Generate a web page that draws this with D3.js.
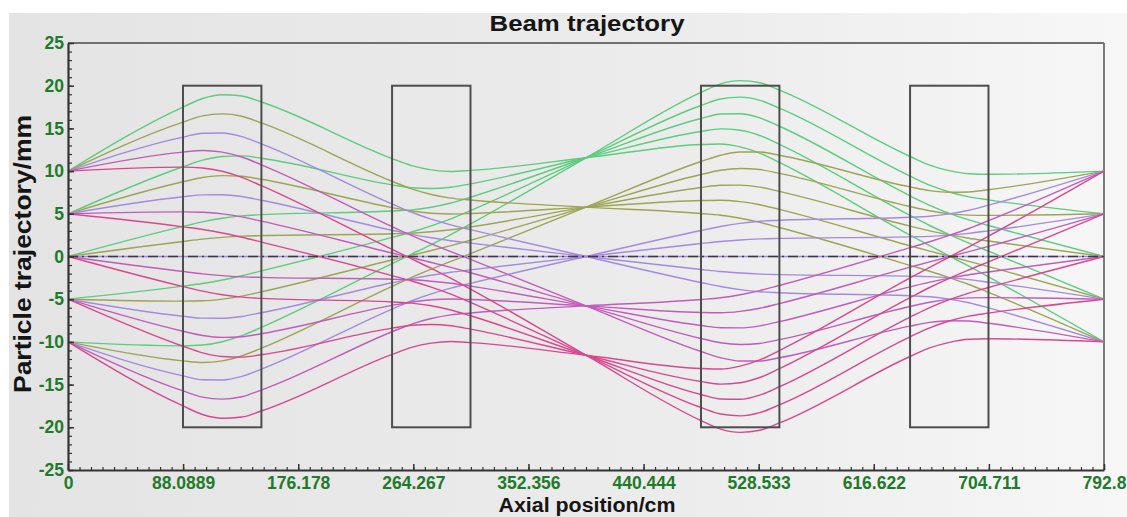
<!DOCTYPE html>
<html>
<head>
<meta charset="utf-8">
<script src="https://cdnjs.cloudflare.com/ajax/libs/d3/7.8.5/d3.min.js"></script>
<style>
body { margin: 0; background: #fff; }
svg { display: block; font-family: "Liberation Sans", Arial, sans-serif; }
</style>
</head>
<body>
<div id="beamChart"></div>
<script>
// axial stations (cm) where each particle's transverse position was read
var stations = [0, 88, 103, 118, 133, 148, 248, 263, 278, 293, 308, 396.4,
	484.4, 499.4, 514.4, 529.4, 544.4, 644.4, 659.4, 674.4, 689.4, 704.4, 792.8];

// quadrupole boxes (start / end in cm, half aperture in mm)
var quadStart = [88, 248, 484.4, 644.4];
var quadEnd = [148, 308, 544.4, 704.4];
var quadAperture = 20;

// particle groups by starting offset; each holds 5 rays (green, olive, purple, magenta, pink)
var startOffsets = [10, 5, 0, -5, -10];
var rayColors = ["#5dcc7f", "#9ea454", "#a48ae0", "#c25cbc", "#d9488f"];

var raysFrom10 = [
	[10, 17.50, 18.50, 18.94, 18.80, 18.09, 11.47, 10.64, 10.15, 9.96, 10.08, 11.56, 13.12, 13.18, 12.84, 12.11, 11.01, 2.51, 1.27, 0.06, -1.14, -2.38, -10],
	[10, 15.74, 16.47, 16.70, 16.42, 15.64, 8.81, 7.91, 7.26, 6.83, 6.61, 5.78, 5.04, 4.83, 4.48, 3.99, 3.39, -1.04, -1.73, -2.47, -3.28, -4.19, -10],
	[10, 13.98, 14.44, 14.46, 14.04, 13.19, 6.15, 5.18, 4.37, 3.70, 3.14, 0, -3.04, -3.51, -3.88, -4.12, -4.24, -4.60, -4.72, -4.99, -5.42, -6.01, -10],
	[10, 12.22, 12.41, 12.22, 11.65, 10.74, 3.49, 2.45, 1.49, 0.57, -0.33, -5.78, -11.12, -11.86, -12.24, -12.24, -11.86, -8.15, -7.72, -7.52, -7.55, -7.82, -10],
	[10, 10.46, 10.37, 9.98, 9.27, 8.29, 0.83, -0.28, -1.40, -2.57, -3.81, -11.56, -19.21, -20.21, -20.59, -20.35, -19.49, -11.71, -10.71, -10.05, -9.69, -9.63, -10]
];
var raysFrom5 = [
	[5, 10.51, 11.28, 11.71, 11.78, 11.50, 8.39, 8.05, 7.96, 8.11, 8.51, 11.56, 14.64, 14.94, 14.78, 14.17, 13.13, 4.81, 3.63, 2.56, 1.57, 0.63, -5],
	[5, 8.75, 9.25, 9.47, 9.40, 9.04, 5.73, 5.32, 5.07, 4.98, 5.04, 5.78, 6.56, 6.59, 6.42, 6.06, 5.51, 1.25, 0.63, 0.03, -0.57, -1.19, -5],
	[5, 6.99, 7.22, 7.23, 7.02, 6.59, 3.07, 2.59, 2.19, 1.85, 1.57, 0, -1.52, -1.76, -1.94, -2.06, -2.12, -2.30, -2.36, -2.50, -2.71, -3.00, -5],
	[5, 5.23, 5.19, 4.99, 4.64, 4.14, 0.41, -0.14, -0.70, -1.28, -1.90, -5.78, -9.60, -10.10, -10.30, -10.18, -9.74, -5.85, -5.36, -5.02, -4.85, -4.82, -5],
	[5, 3.47, 3.16, 2.75, 2.25, 1.69, -2.24, -2.87, -3.59, -4.41, -5.38, -11.56, -17.68, -18.45, -18.66, -18.29, -17.37, -9.41, -8.35, -7.55, -6.98, -6.63, -5]
];
var raysFrom0 = [
	[0, 3.52, 4.06, 4.48, 4.76, 4.90, 5.32, 5.46, 5.77, 6.26, 6.94, 11.56, 16.16, 16.69, 16.72, 16.23, 15.25, 7.11, 5.99, 5.06, 4.28, 3.63, 0],
	[0, 1.76, 2.03, 2.24, 2.38, 2.45, 2.66, 2.73, 2.89, 3.13, 3.47, 5.78, 8.08, 8.35, 8.36, 8.12, 7.62, 3.55, 3.00, 2.53, 2.14, 1.81, 0],
	[0, 0, 0, 0, 0, 0, 0, 0, 0, 0, 0, 0, 0, 0, 0, 0, 0, 0, 0, 0, 0, 0, 0],
	[0, -1.76, -2.03, -2.24, -2.38, -2.45, -2.66, -2.73, -2.89, -3.13, -3.47, -5.78, -8.08, -8.35, -8.36, -8.12, -7.62, -3.55, -3.00, -2.53, -2.14, -1.81, 0],
	[0, -3.52, -4.06, -4.48, -4.76, -4.90, -5.32, -5.46, -5.77, -6.26, -6.94, -11.56, -16.16, -16.69, -16.72, -16.23, -15.25, -7.11, -5.99, -5.06, -4.28, -3.63, 0]
];
var raysFromM5 = [
	[-5, -3.47, -3.16, -2.75, -2.25, -1.69, 2.24, 2.87, 3.59, 4.41, 5.38, 11.56, 17.68, 18.45, 18.66, 18.29, 17.37, 9.41, 8.35, 7.55, 6.98, 6.63, 5],
	[-5, -5.23, -5.19, -4.99, -4.64, -4.14, -0.41, 0.14, 0.70, 1.28, 1.90, 5.78, 9.60, 10.10, 10.30, 10.18, 9.74, 5.85, 5.36, 5.02, 4.85, 4.82, 5],
	[-5, -6.99, -7.22, -7.23, -7.02, -6.59, -3.07, -2.59, -2.19, -1.85, -1.57, 0, 1.52, 1.76, 1.94, 2.06, 2.12, 2.30, 2.36, 2.50, 2.71, 3.00, 5],
	[-5, -8.75, -9.25, -9.47, -9.40, -9.04, -5.73, -5.32, -5.07, -4.98, -5.04, -5.78, -6.56, -6.59, -6.42, -6.06, -5.51, -1.25, -0.63, -0.03, 0.57, 1.19, 5],
	[-5, -10.51, -11.28, -11.71, -11.78, -11.50, -8.39, -8.05, -7.96, -8.11, -8.51, -11.56, -14.64, -14.94, -14.78, -14.17, -13.13, -4.81, -3.63, -2.56, -1.57, -0.63, 5]
];
var raysFromM10 = [
	[-10, -10.46, -10.37, -9.98, -9.27, -8.29, -0.83, 0.28, 1.40, 2.57, 3.81, 11.56, 19.21, 20.21, 20.59, 20.35, 19.49, 11.71, 10.71, 10.05, 9.69, 9.63, 10],
	[-10, -12.22, -12.41, -12.22, -11.65, -10.74, -3.49, -2.45, -1.49, -0.57, 0.33, 5.78, 11.12, 11.86, 12.24, 12.24, 11.86, 8.15, 7.72, 7.52, 7.55, 7.82, 10],
	[-10, -13.98, -14.44, -14.46, -14.04, -13.19, -6.15, -5.18, -4.37, -3.70, -3.14, 0, 3.04, 3.51, 3.88, 4.12, 4.24, 4.60, 4.72, 4.99, 5.42, 6.01, 10],
	[-10, -15.74, -16.47, -16.70, -16.42, -15.64, -8.81, -7.91, -7.26, -6.83, -6.61, -5.78, -5.04, -4.83, -4.48, -3.99, -3.39, 1.04, 1.73, 2.47, 3.28, 4.19, 10],
	[-10, -17.50, -18.50, -18.94, -18.80, -18.09, -11.47, -10.64, -10.15, -9.96, -10.08, -11.56, -13.12, -13.18, -12.84, -12.11, -11.01, -2.51, -1.27, -0.06, 1.14, 2.38, 10]
];

var xTicks = [0, 88.0889, 176.178, 264.267, 352.356, 440.444, 528.533, 616.622, 704.711, 792.8];
var xTickLabels = ["0", "88.0889", "176.178", "264.267", "352.356", "440.444", "528.533", "616.622", "704.711", "792.8"];
var yTicks = [25, 20, 15, 10, 5, 0, -5, -10, -15, -20, -25];
var yTickLabels = ["25", "20", "15", "10", "5", "0", "-5", "-10", "-15", "-20", "-25"];

var canvasWidth = 1127;
var canvasHeight = 517;
var labelGreen = "#1f7a2a";

var beamCanvas = d3.select("#beamChart")
	.append("svg")
	.attr("width", canvasWidth)
	.attr("height", canvasHeight);

// light grey panel, a little brighter on the right
var panelFade = beamCanvas.append("defs")
	.append("linearGradient")
	.attr("id", "panelFade")
	.attr("x1", "0%").attr("x2", "100%")
	.attr("y1", "0%").attr("y2", "0%");
panelFade.append("stop").attr("offset", "0%").attr("stop-color", "#e4e4e4");
panelFade.append("stop").attr("offset", "60%").attr("stop-color", "#ececec");
panelFade.append("stop").attr("offset", "100%").attr("stop-color", "#f7f7f7");

beamCanvas.append("rect")
	.attr("x", 9)
	.attr("y", 13)
	.attr("width", canvasWidth - 9)
	.attr("height", canvasHeight - 13)
	.style("fill", "url(#panelFade)");

var x = d3.scaleLinear().domain([0, 792.8]).range([68, 1104]);
var y = d3.scaleLinear().domain([-25, 25]).range([470, 43]);

// frame: top and right borders
beamCanvas.append("line")
	.attr("x1", x(0)).attr("x2", x(792.8))
	.attr("y1", y(25)).attr("y2", y(25))
	.attr("stroke", "#707070").attr("stroke-width", 2);
beamCanvas.append("line")
	.attr("x1", x(792.8)).attr("x2", x(792.8))
	.attr("y1", y(25)).attr("y2", y(-25))
	.attr("stroke", "#7a7a7a").attr("stroke-width", 2);

// particle trajectories
var rayLine = d3.line()
	.x(function(d, i) { return x(stations[i]); })
	.y(function(d) { return y(d); })
	.curve(d3.curveMonotoneX);

var rayGroups = [raysFrom10, raysFrom5, raysFrom0, raysFromM5, raysFromM10];
var rayLayer = beamCanvas.append("g");
for (var c = 0; c < rayColors.length; c++) {
	for (var s = 0; s < rayGroups.length; s++) {
		rayLayer.append("path")
			.attr("d", rayLine(rayGroups[s][c]))
			.attr("fill", "none")
			.attr("stroke", rayColors[c])
			.attr("stroke-width", 1.4)
			.attr("data-start", startOffsets[s]);
	}
}

// quadrupole boxes
for (var q = 0; q < quadStart.length; q++) {
	beamCanvas.append("rect")
		.attr("x", x(quadStart[q]))
		.attr("y", y(quadAperture))
		.attr("width", x(quadEnd[q]) - x(quadStart[q]))
		.attr("height", y(-quadAperture) - y(quadAperture))
		.attr("fill", "none")
		.attr("stroke", "#4d4d4d")
		.attr("stroke-width", 2);
}

// optical axis, drawn over the rays
beamCanvas.append("line")
	.attr("x1", x(0)).attr("x2", x(792.8))
	.attr("y1", y(0)).attr("y2", y(0))
	.attr("stroke", "#3a3a3a")
	.attr("stroke-width", 1.6)
	.attr("stroke-dasharray", "10,4,2,4");

// x axis: minor ticks then major ticks with labels
beamCanvas.append("g")
	.attr("transform", "translate(0," + y(-25) + ")")
	.call(d3.axisBottom(x).tickValues(d3.range(0, 792.81, 792.8 / 90)).tickSizeInner(-3).tickSizeOuter(0).tickFormat(""))
	.call(function(g) { g.select(".domain").remove(); })
	.selectAll("line").attr("stroke", "#333").attr("stroke-width", 1.2);

var xAxis = beamCanvas.append("g")
	.attr("transform", "translate(0," + y(-25) + ")")
	.call(d3.axisBottom(x)
		.tickValues(xTicks)
		.tickFormat(function(d, i) { return xTickLabels[i]; })
		.tickSizeInner(-6)
		.tickSizeOuter(0)
		.tickPadding(7));
xAxis.select(".domain").attr("stroke", "#333").attr("stroke-width", 2.2);
xAxis.selectAll(".tick line").attr("stroke", "#333").attr("stroke-width", 1.5);
xAxis.selectAll("text")
	.attr("fill", labelGreen)
	.style("font-family", "\"Liberation Sans\", Arial, sans-serif")
	.style("font-size", "17.5px")
	.style("font-weight", "bold");

// y axis
beamCanvas.append("g")
	.attr("transform", "translate(" + x(0) + ",0)")
	.call(d3.axisLeft(y).tickValues(d3.range(-25, 25.1, 1)).tickSizeInner(-4).tickSizeOuter(0).tickFormat(""))
	.call(function(g) { g.select(".domain").remove(); })
	.selectAll("line").attr("stroke", "#333").attr("stroke-width", 1.2);

var yAxis = beamCanvas.append("g")
	.attr("transform", "translate(" + x(0) + ",0)")
	.call(d3.axisLeft(y)
		.tickValues(yTicks)
		.tickFormat(function(d, i) { return yTickLabels[i]; })
		.tickSizeInner(-6)
		.tickSizeOuter(0)
		.tickPadding(4));
yAxis.select(".domain").attr("stroke", "#333").attr("stroke-width", 2.2);
yAxis.selectAll(".tick line").attr("stroke", "#333").attr("stroke-width", 1.5);
yAxis.selectAll("text")
	.attr("fill", labelGreen)
	.style("font-family", "\"Liberation Sans\", Arial, sans-serif")
	.style("font-size", "17.5px")
	.style("font-weight", "bold");

// titles
beamCanvas.append("text")
	.attr("x", 587)
	.attr("y", 31)
	.attr("text-anchor", "middle")
	.attr("textLength", 195)
	.attr("lengthAdjust", "spacingAndGlyphs")
	.style("font-size", "22px")
	.style("font-weight", "bold")
	.attr("fill", "#151515")
	.text("Beam trajectory");

beamCanvas.append("text")
	.attr("x", 587)
	.attr("y", 512)
	.attr("text-anchor", "middle")
	.attr("textLength", 177)
	.attr("lengthAdjust", "spacingAndGlyphs")
	.style("font-size", "20px")
	.style("font-weight", "bold")
	.attr("fill", "#151515")
	.text("Axial position/cm");

beamCanvas.append("text")
	.attr("transform", "translate(31,254) rotate(-90)")
	.attr("text-anchor", "middle")
	.attr("textLength", 278)
	.attr("lengthAdjust", "spacingAndGlyphs")
	.style("font-size", "23px")
	.style("font-weight", "bold")
	.attr("fill", "#151515")
	.text("Particle trajectory/mm");
</script>
</body>
</html>
